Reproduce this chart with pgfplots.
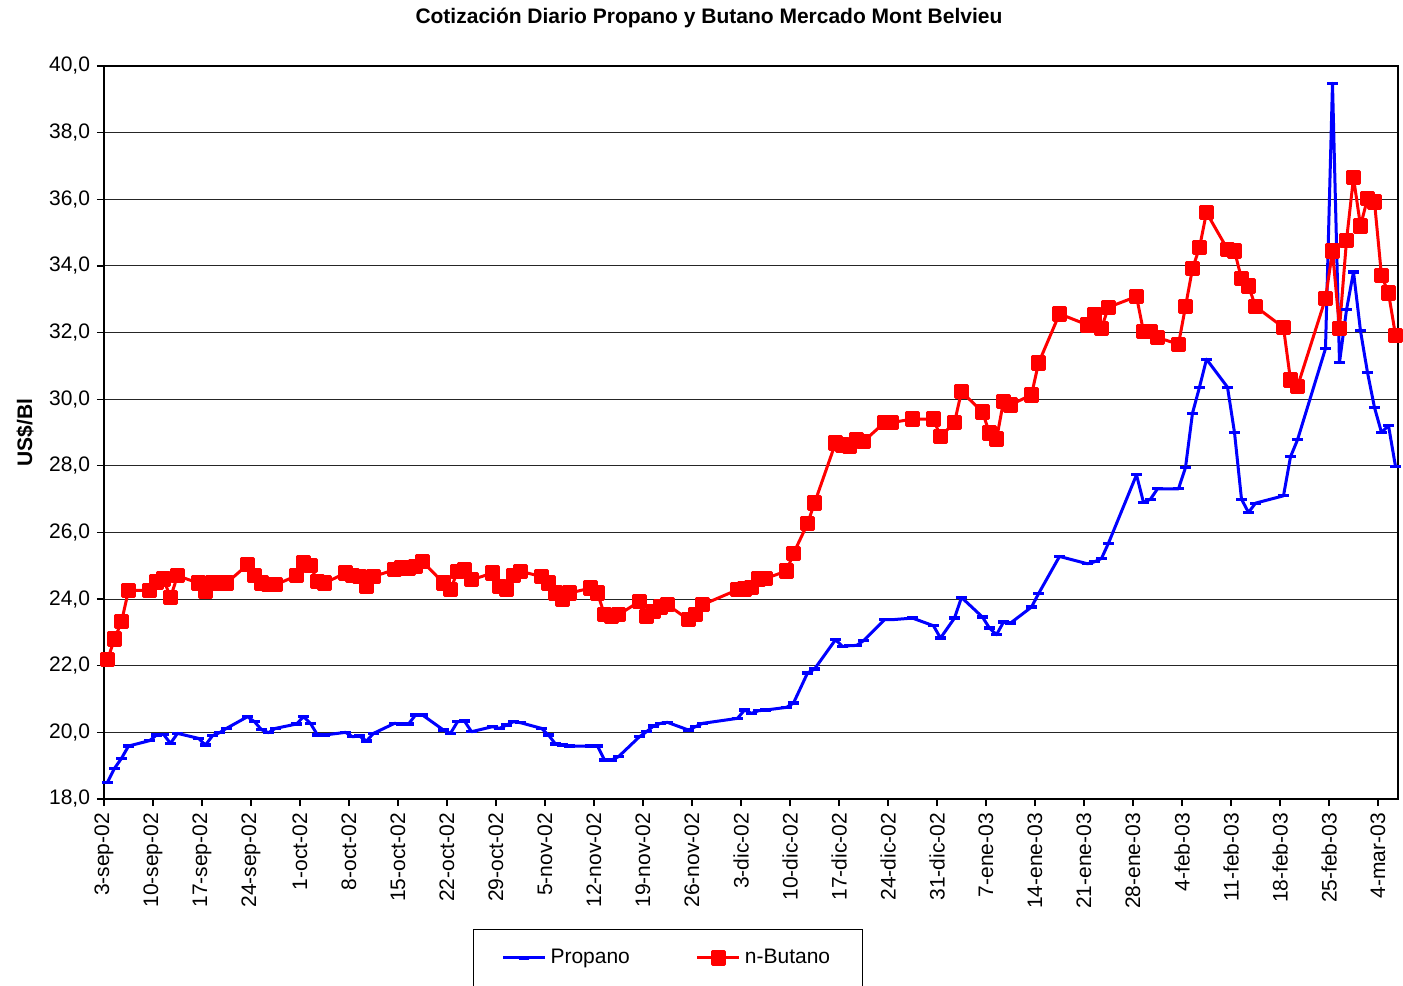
\documentclass[border=0pt]{standalone}
\usepackage{fontspec}
\setmainfont{Liberation Sans}
\usepackage{pgfplots}
\usepackage{pgfplotstable}
\pgfplotsset{compat=1.18}

% d = business day counted from 3-sep-02, p = Propano, b = n-Butano (US$/Bl)
\pgfplotstableread{
d p b
0 18.50 22.18
1 18.92 22.80
2 19.22 23.32
3 19.59 24.26
6 19.75 24.26
7 19.92 24.51
8 19.94 24.60
9 19.67 24.05
10 19.97 24.70
13 19.82 24.48
14 19.62 24.23
15 19.90 24.48
16 19.99 24.48
17 20.12 24.48
20 20.47 25.03
21 20.32 24.70
22 20.08 24.48
23 19.99 24.43
24 20.12 24.43
27 20.25 24.70
28 20.47 25.10
29 20.27 25.00
30 19.92 24.53
31 19.92 24.48
34 20.00 24.78
35 19.87 24.70
36 19.89 24.68
37 19.74 24.38
38 19.97 24.68
41 20.27 24.88
42 20.25 24.93
43 20.25 24.93
44 20.52 24.98
45 20.52 25.13
48 20.07 24.48
49 19.97 24.28
50 20.32 24.83
51 20.34 24.88
52 20.02 24.58
55 20.17 24.78
56 20.12 24.38
57 20.22 24.28
58 20.32 24.70
59 20.29 24.83
62 20.12 24.68
63 19.92 24.48
64 19.65 24.18
65 19.62 23.98
66 19.59 24.18
69 19.59 24.33
70 19.59 24.18
71 19.17 23.53
72 19.17 23.48
73 19.27 23.53
76 19.87 23.93
77 20.02 23.48
78 20.19 23.63
79 20.27 23.76
80 20.30 23.83
83 20.07 23.38
84 20.17 23.53
85 20.27 23.83
90 20.42 24.28
91 20.67 24.30
92 20.57 24.35
93 20.65 24.60
94 20.67 24.62
97 20.75 24.84
98 20.88 25.37
100 21.78 26.26
101 21.90 26.88
104 22.78 28.68
105 22.58 28.62
106 22.60 28.58
107 22.61 28.78
108 22.75 28.73
111 23.38 29.30
112 23.38 29.30
115 23.43 29.40
118 23.20 29.40
119 22.83 28.88
121 23.43 29.30
122 24.05 30.23
125 23.46 29.61
126 23.13 28.98
127 22.93 28.80
128 23.31 29.93
129 23.28 29.83
132 23.76 30.13
133 24.16 31.08
136 25.28 32.56
140 25.06 32.23
141 25.12 32.53
142 25.22 32.13
143 25.68 32.76
147 27.73 33.08
148 26.90 32.03
149 27.00 32.03
150 27.31 31.85
153 27.31 31.65
154 27.95 32.78
155 29.58 33.92
156 30.36 34.55
157 31.20 35.60
160 30.36 34.50
161 29.00 34.45
162 27.00 33.62
163 26.60 33.40
164 26.88 32.78
168 27.10 32.15
169 28.27 30.58
170 28.78 30.38
174 31.52 33.02
175 39.48 34.45
176 31.10 32.13
177 32.68 34.76
178 33.82 36.65
179 32.05 35.20
180 30.80 36.02
181 29.75 35.92
182 29.00 33.71
183 29.21 33.19
184 27.98 31.92
}\datatable

\begin{document}
\begin{tikzpicture}
\begin{axis}[name=main,
  scale only axis, width=647bp, height=366.5bp,
  at={(0,0)}, anchor=south west,
  xmin=-0.5, xmax=184.36, ymin=18, ymax=40,
  xtick={-0.5,6.5,13.5,20.5,27.5,34.5,41.5,48.5,55.5,62.5,69.5,76.5,83.5,90.5,97.5,104.5,111.5,118.5,125.5,132.5,139.5,146.5,153.5,160.5,167.5,174.5,181.5},
  xticklabels={3-sep-02,10-sep-02,17-sep-02,24-sep-02,1-oct-02,8-oct-02,15-oct-02,22-oct-02,29-oct-02,5-nov-02,12-nov-02,19-nov-02,26-nov-02,3-dic-02,10-dic-02,17-dic-02,24-dic-02,31-dic-02,7-ene-03,14-ene-03,21-ene-03,28-ene-03,4-feb-03,11-feb-03,18-feb-03,25-feb-03,4-mar-03},
  ytick={18,20,...,40},
  yticklabel style={/pgf/number format/.cd,fixed,fixed zerofill,precision=1,use comma,assume math mode=true},
  tick label style={font=\fontsize{10.5bp}{12bp}\selectfont, black},
  x tick label style={rotate=90, anchor=east},
  tick align=outside, tick pos=left, major tick length=3.5bp,
  tick style={black, line width=0.6bp},
  axis line style={black, line width=1bp},
  ymajorgrids, major grid style={black!85, line width=0.5bp},
  clip=false,
  ylabel={US\$/Bl},
  ylabel style={at={(axis description cs:-0.061,0.5)}, anchor=center,
    font=\fontsize{10.5bp}{12bp}\selectfont\bfseries},
  legend columns=2,
  legend style={at={(axis description cs:0.2852,-0.2169)}, anchor=west,
    draw=black, line width=0.5bp, inner xsep=14bp, inner ysep=8bp,
    font=\fontsize{10.5bp}{12bp}\selectfont,
    /tikz/every even column/.append style={column sep=31bp}},
  legend image code/.code={\draw[mark repeat=2,mark phase=2,#1]
    plot coordinates {(0bp,0bp) (10.5bp,0bp) (21bp,0bp)};},
]
\addplot[color=blue, line width=1.5bp, line join=round, mark=-, mark size=2.7bp,
  mark options={solid, line width=1.6bp}] table[x=d, y=p] {\datatable};
\addlegendentry{Propano}
\addplot[color=red, line width=1.5bp, line join=round, mark=square*, mark size=3.1bp,
  mark options={solid}] table[x=d, y=b] {\datatable};
\addlegendentry{n-Butano}
\node[anchor=center, font=\fontsize{10.5bp}{12bp}\selectfont\bfseries]
  at (rel axis cs:0.4675,1.0655) {Cotización Diario Propano y Butano Mercado Mont Belvieu};
\end{axis}
\pgfresetboundingbox
\path[use as bounding box] (-52bp,-93.5bp) rectangle (649.5bp,399.5bp);
\end{tikzpicture}
\end{document}
